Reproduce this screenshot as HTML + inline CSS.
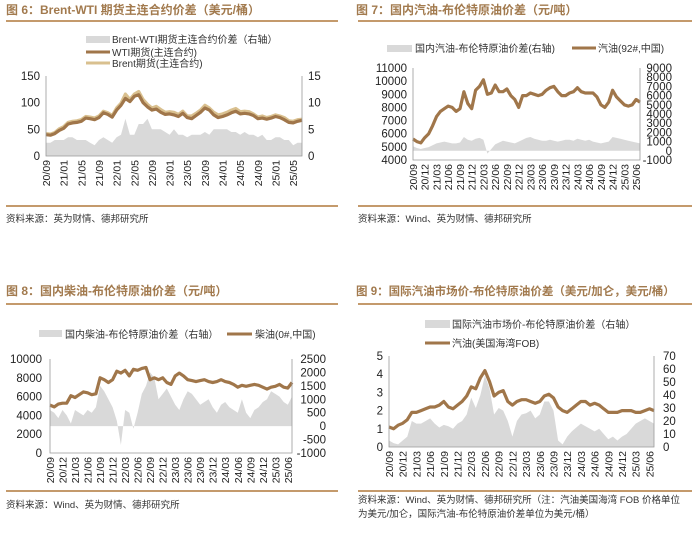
<!DOCTYPE html>
<html><head><meta charset="utf-8">
<style>
html,body{margin:0;padding:0;background:#fff;}
svg{display:block;font-family:"Liberation Sans","Noto Sans CJK SC",sans-serif;}
.t{font-size:12px;font-weight:bold;fill:#a27a4e;}
.lg{font-size:10px;fill:#333;}
.src{font-size:9.5px;fill:#333;}
</style></head><body>
<svg id="s" width="700" height="552" viewBox="0 0 700 552">
<text class="t" x="6" y="14">图 6：Brent-WTI 期货主连合约价差（美元/桶）</text>
<line x1="6" y1="21" x2="338" y2="21" stroke="#c49a6c" stroke-width="2"/>
<line x1="6" y1="206" x2="338" y2="206" stroke="#c49a6c" stroke-width="2"/>
<text class="src" x="6" y="222">资料来源：英为财情、德邦研究所</text>
<rect x="86" y="36" width="24" height="7" fill="#d9d9d9"/>
<text class="lg" x="112" y="43">Brent-WTI期货主连合约价差（右轴）</text>
<line x1="86" y1="52" x2="110" y2="52" stroke="#a0764a" stroke-width="3"/>
<text class="lg" x="112" y="56">WTI期货(主连合约)</text>
<line x1="86" y1="63" x2="110" y2="63" stroke="#d9c08f" stroke-width="3"/>
<text class="lg" x="112" y="67">Brent期货(主连合约)</text>

<text class="t" x="356" y="14">图 7：国内汽油-布伦特原油价差（元/吨）</text>
<line x1="358" y1="21" x2="692" y2="21" stroke="#c49a6c" stroke-width="2"/>
<line x1="358" y1="206" x2="692" y2="206" stroke="#c49a6c" stroke-width="2"/>
<text class="src" x="358" y="222">资料来源：Wind、英为财情、德邦研究所</text>
<rect x="387" y="45" width="25" height="7" fill="#d9d9d9"/>
<text class="lg" x="415" y="52">国内汽油-布伦特原油价差(右轴)</text>
<line x1="572" y1="48" x2="596" y2="48" stroke="#a0764a" stroke-width="3"/>
<text class="lg" x="598" y="52">汽油(92#,中国)</text>

<text class="t" x="6" y="295">图 8：国内柴油-布伦特原油价差（元/吨）</text>
<line x1="6" y1="304" x2="338" y2="304" stroke="#c49a6c" stroke-width="2"/>
<line x1="6" y1="491" x2="338" y2="491" stroke="#c49a6c" stroke-width="2"/>
<text class="src" x="6" y="508">资料来源：Wind、英为财情、德邦研究所</text>
<rect x="39" y="330" width="23" height="7" fill="#d9d9d9"/>
<text class="lg" x="65" y="338">国内柴油-布伦特原油价差（右轴）</text>
<line x1="227" y1="334" x2="252" y2="334" stroke="#a0764a" stroke-width="3"/>
<text class="lg" x="255" y="338">柴油(0#,中国)</text>

<text class="t" x="356" y="295" style="font-size:11.5px">图 9：国际汽油市场价-布伦特原油价差（美元/加仑，美元/桶）</text>
<line x1="358" y1="304" x2="692" y2="304" stroke="#c49a6c" stroke-width="2"/>
<line x1="358" y1="491" x2="692" y2="491" stroke="#c49a6c" stroke-width="2"/>
<text class="src" x="358" y="503">资料来源：Wind、英为财情、德邦研究所（注：汽油美国海湾 FOB 价格单位</text>
<text class="src" x="358" y="517">为美元/加仑，国际汽油-布伦特原油价差单位为美元/桶）</text>
<rect x="425" y="320" width="25" height="8" fill="#d9d9d9"/>
<text class="lg" x="452" y="328">国际汽油市场价-布伦特原油价差（右轴）</text>
<line x1="425" y1="343" x2="450" y2="343" stroke="#a0764a" stroke-width="3"/>
<text class="lg" x="452" y="347">汽油(美国海湾FOB)</text>
</svg>
<script>
// ---- data (monthly, 2020/09 .. 2025/07) ----
const p6Labels=["20/09","21/01","21/05","21/09","22/01","22/05","22/09","23/01","23/05","23/09","24/01","24/05","24/09","25/01","25/05"];
const p6Wti=[40,39,42,48, 52,60,62,63,65,71,70,68,72,81,78,73, 86,95,108,102,112,115,100,92,86,88,82,78, 79,77,74,80,72,70,76,82,90,86,77,72, 74,77,81,84,79,80,79,76,70,71,69,71, 74,72,68,63,62,65,67];
const p6Brent=[42,41,44,51, 55,63,65,66,68,74,73,71,75,84,81,76, 90,99,116,106,116,121,106,97,90,93,87,82, 83,82,78,84,75,75,80,86,95,90,82,77, 79,82,86,89,83,84,83,79,73,75,72,74, 77,75,72,66,65,68,69];
const p6Spread=[2.5,2.5,3,3, 3,3.5,3.5,3,3,3,2.5,2,3,3.5,3,2.5, 3.5,4,7,4,4,6,6,7,5,5,5,4.5, 4,5,4,4,3.5,4,4,4,4.5,4,5,5, 5,5,4.5,4.5,4,4.5,4,4,3.5,4,3,3, 3.5,3.5,3,3,2,2.5,2.5];
const p6LeftTicks=[0,50,100,150];
const p6RightTicks=[0,5,10,15];

const q3Labels=["20/09","20/12","21/03","21/06","21/09","21/12","22/03","22/06","22/09","22/12","23/03","23/06","23/09","23/12","24/03","24/06","24/09","24/12","25/03","25/06"];
const p7Gas=[5600,5400,5300,5700, 6000,6600,7300,7700,7900,8100,8000,7700,7900,9200,8300,7900, 9300,9600,10100,9000,9100,9700,9200,9200,9400,8900,8600,8000, 8900,8900,9100,9000,8900,9000,9300,9500,9600,9200,8900,8900, 9100,9200,9500,9200,9100,9100,9100,8800,8200,8000,8400,9300, 8800,8500,8200,8100,8200,8600,8400];
const p7Spread=[500,300,200,300, 400,600,800,900,1000,900,800,800,900,1500,1200,1100, 1300,1400,1200,-300,200,700,900,1100,1000,900,800,1000, 1200,1400,1500,1300,1200,1100,1100,1200,1100,1000,1100,1200, 1200,1100,1300,1200,1100,1200,1000,900,800,900,1000,1500, 1400,1300,1200,1100,1000,900,800];
const p7LeftTicks=[4000,5000,6000,7000,8000,9000,10000,11000];
const p7RightTicks=[-1000,0,1000,2000,3000,4000,5000,6000,7000,8000,9000];

const p8Diesel=[5100,4900,5200,5300, 5300,6100,5900,6200,6500,6400,6200,6300,8000,7800,7500,7800, 8700,8500,8800,8200,8900,8800,9000,9100,7800,8000,7800,8000, 7500,7300,8200,8500,8200,7800,7700,7600,7700,7800,7600,7500, 7600,7800,7600,7500,7300,7000,7200,7100,7200,7300,7200,7000, 6800,7000,7100,7300,7000,6900,7500];
const p8Spread=[600,500,300,600, 400,100,600,500,400,600,500,700,1500,1300,1000,700, 200,-700,600,500,-100,500,1200,1500,2000,1800,1000,1200, 1400,1100,800,600,1000,1300,1200,1000,800,900,1000,700, 500,800,900,700,600,500,1000,500,300,600,700,900, 1000,1300,1200,1100,900,800,1100];
const p8LeftTicks=[0,2000,4000,6000,8000,10000];
const p8RightTicks=[-1000,-500,0,500,1000,1500,2000,2500];

const p9Gas=[1.1,1.0,1.2,1.3, 1.5,1.9,1.9,2.0,2.1,2.2,2.2,2.3,2.5,2.2,2.1,2.3, 2.5,2.8,3.3,3.2,3.8,4.2,3.6,2.8,3.0,3.1,2.5,2.3, 2.5,2.6,2.6,2.5,2.4,2.5,2.8,2.9,2.7,2.2,2.0,1.9, 2.1,2.3,2.5,2.5,2.3,2.4,2.3,2.1,1.9,1.9,1.9,2.0, 2.0,2.0,1.9,1.9,2.0,2.1,2.0];
const p9Spread=[5,3,2,5, 8,20,18,18,20,22,18,15,17,16,14,18, 20,25,38,30,40,55,45,25,30,28,20,8, 20,25,26,28,22,25,35,35,28,5,2,8, 12,15,18,16,14,12,14,10,6,8,5,8, 10,14,18,20,22,20,18];
const p9LeftTicks=[0,1,2,3,4,5];
const p9RightTicks=[0,10,20,30,40,50,60,70];

const svg=document.getElementById('s');
const NS='http://www.w3.org/2000/svg';
function mk(tag,attrs){const e=document.createElementNS(NS,tag);for(const k in attrs)e.setAttribute(k,attrs[k]);svg.appendChild(e);return e;}

function draw(p){
  const n=p.line.length;
  const xs=i=>p.x0+(p.x1-p.x0)*i/(n-1);
  const yl=v=>p.yB+(p.yT-p.yB)*(v-p.lMin)/(p.lMax-p.lMin);
  const yr=v=>p.yB+(p.yT-p.yB)*(v-p.rMin)/(p.rMax-p.rMin);
  let d='M'+xs(0)+','+yr(0);
  p.area.forEach((v,i)=>{d+=' L'+xs(i).toFixed(1)+','+yr(v).toFixed(1);});
  d+=' L'+xs(n-1)+','+yr(0)+' Z';
  const a=mk('path',{d:d,fill:'#d9d9d9'});
  
  
  p.lines.forEach(L=>{
    const pts=L.data.map((v,i)=>xs(i).toFixed(1)+','+yl(v).toFixed(1)).join(' ');
    const pl=mk('polyline',{points:pts,fill:'none',stroke:L.color,'stroke-width':3.2,'stroke-linejoin':'round'});
    
    
  });
  const ax=mk('path',{d:'M'+p.x0+','+p.yT+' V'+p.yB+' H'+p.x1+' V'+p.yT,fill:'none',stroke:'#999','stroke-width':0.8});
  
  
  p.lTicks.forEach(v=>{
    const t=mk('text',{x:p.lx,y:yl(v)+4,'text-anchor':'end','font-size':11.5,fill:'#222'});
    t.textContent=v;
    
    
  });
  p.rTicks.forEach(v=>{
    const t=mk('text',{x:p.rx,y:yr(v)+4,'text-anchor':p.ranchor,'font-size':11.5,fill:'#222'});
    t.textContent=v;
    
    
  });
  p.labels.forEach((s,k)=>{
    const x=xs(k*p.step)+4;
    const t=mk('text',{x:0,y:0,'text-anchor':'end','font-size':10.5,fill:'#222',transform:'translate('+x+','+(p.yB+4)+') rotate(-90)'});
    t.textContent=s;
    
    
  });
}
draw({id:'fig6',x0:46,x1:302,yT:76,yB:156,lMin:0,lMax:150,rMin:0,rMax:15,line:p6Wti,area:p6Spread,
  lines:[{data:p6Brent,color:'#d9c08f',name:'brent'},{data:p6Wti,color:'#a0764a',name:'wti'}],
  lTicks:p6LeftTicks,rTicks:p6RightTicks,lx:40,rx:308,ranchor:'start',labels:p6Labels,step:4});
draw({id:'fig7',x0:413,x1:640,yT:68,yB:160,lMin:4000,lMax:11000,rMin:-1000,rMax:9000,line:p7Gas,area:p7Spread,
  lines:[{data:p7Gas,color:'#a0764a',name:'gasoline'}],
  lTicks:p7LeftTicks,rTicks:p7RightTicks,lx:407,rx:672,ranchor:'end',labels:q3Labels,step:3});
draw({id:'fig8',x0:50,x1:292,yT:359,yB:453,lMin:0,lMax:10000,rMin:-1000,rMax:2500,line:p8Diesel,area:p8Spread,
  lines:[{data:p8Diesel,color:'#a0764a',name:'diesel'}],
  lTicks:p8LeftTicks,rTicks:p8RightTicks,lx:42,rx:326,ranchor:'end',labels:q3Labels,step:3});
draw({id:'fig9',x0:389,x1:654,yT:356,yB:447,lMin:0,lMax:5,rMin:0,rMax:70,line:p9Gas,area:p9Spread,
  lines:[{data:p9Gas,color:'#a0764a',name:'gasoline-fob'}],
  lTicks:p9LeftTicks,rTicks:p9RightTicks,lx:383,rx:663,ranchor:'start',labels:q3Labels,step:3});
</script>
</body></html>
